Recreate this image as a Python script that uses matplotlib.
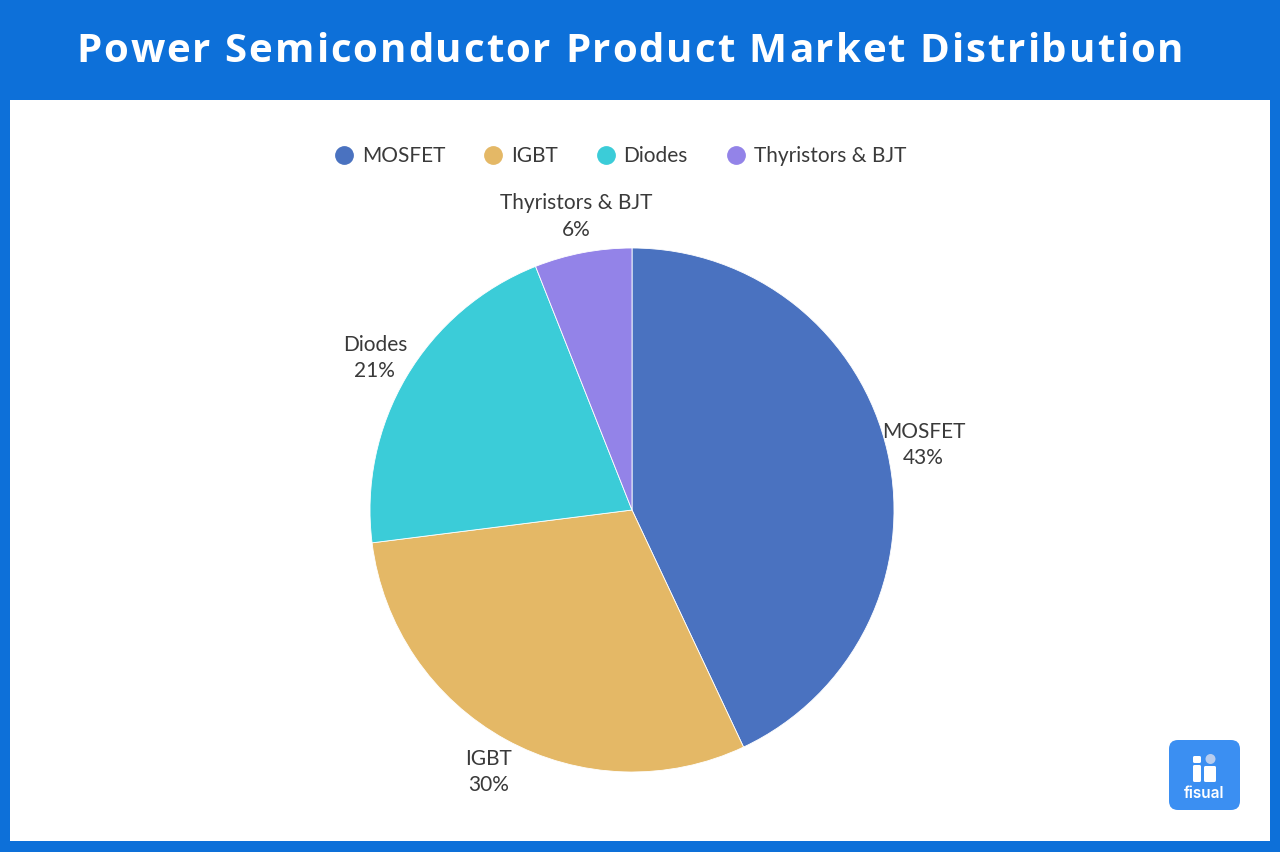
import matplotlib
matplotlib.use("Agg")
import matplotlib.pyplot as plt
from matplotlib.patches import Rectangle, FancyBboxPatch, Circle
from matplotlib.lines import Line2D
import numpy as np

# ---- data ----
categories = ["MOSFET", "IGBT", "Diodes", "Thyristors & BJT"]
shares = [43, 30, 21, 6]
colors = ["#4a72c0", "#e4b866", "#3bccd8", "#9383e8"]
title = "Power Semiconductor Product Market Distribution"

W, H = 1280, 852
FRAME = "#0d70d9"
TEXT = "#3a3a3a"
LABEL_FONT = ["Lato", "DejaVu Sans"]
TITLE_FONT = ["Open Sans", "DejaVu Sans"]

fig = plt.figure(figsize=(12.8, 8.52), dpi=100, facecolor=FRAME)
ax = fig.add_axes([0, 0, 1, 1])

# pie
cx, cy, r = 632, 342, 262
wedges, _ = ax.pie(shares, colors=colors, startangle=90, counterclock=False,
                   center=(cx, cy), radius=r,
                   wedgeprops=dict(edgecolor="white", linewidth=0.6))

ax.set_xlim(0, W)
ax.set_ylim(0, H)
ax.set_aspect("equal")
ax.axis("off")

# white panel
ax.add_patch(Rectangle((10, 11), 1260, 741, facecolor="white", edgecolor="none", zorder=0))

# title with letter spacing
renderer = fig.canvas.get_renderer()
tprops = dict(color="white", fontsize=29, fontweight="bold", family=TITLE_FONT, va="center")
def text_width(s):
    if not s:
        return 0.0
    t = ax.text(0, 0, s, **tprops)
    w = t.get_window_extent(renderer).width
    t.remove()
    return w
spacing = 2.0
full_w = text_width(title) + spacing * (len(title) - 1)
x0 = 630 - full_w / 2
for i, ch in enumerate(title):
    if ch == " ":
        continue
    xi = x0 + text_width(title[:i]) + spacing * i
    ax.text(xi, 801, ch, ha="left", **tprops)

total = sum(shares)
for w, name, val in zip(wedges, categories, shares):
    mid = np.deg2rad((w.theta1 + w.theta2) / 2)
    d = r * 1.14
    ax.text(cx + d * np.cos(mid), cy + d * np.sin(mid),
            f"{name}\n{val / total * 100:.0f}%", ha="center", va="center",
            fontsize=15, color=TEXT, family=LABEL_FONT, linespacing=1.4)

# legend
handles = [Line2D([], [], marker="o", linestyle="none", markersize=12.5,
                  markerfacecolor=c, markeredgecolor=c) for c in colors]
leg = ax.legend(handles, categories, loc="center", ncol=4,
                bbox_to_anchor=(620 / W, (H - 156) / H), frameon=False,
                handlelength=1.0, handletextpad=0.35, columnspacing=1.8,
                prop=dict(family=LABEL_FONT, size=15))
for t in leg.get_texts():
    t.set_color(TEXT)

# logo
ax.add_patch(FancyBboxPatch((1169, 42), 71, 70,
                            boxstyle="round,pad=0,rounding_size=9",
                            facecolor="#3b8ff2", edgecolor="none", zorder=3))
ax.add_patch(FancyBboxPatch((1193, H - 763), 8, 7, boxstyle="round,pad=0,rounding_size=1.5",
                            facecolor="white", edgecolor="none", zorder=4))
ax.add_patch(FancyBboxPatch((1193, H - 782), 8, 17, boxstyle="round,pad=0,rounding_size=1.5",
                            facecolor="white", edgecolor="none", zorder=4))
ax.add_patch(Circle((1210.5, H - 759), 5, facecolor="#b7cdef", edgecolor="none", zorder=4))
ax.add_patch(FancyBboxPatch((1204, H - 782), 12, 16, boxstyle="round,pad=0,rounding_size=1.5",
                            facecolor="white", edgecolor="none", zorder=4))
ax.text(1204.5, H - 793, "fisual", color="white", fontsize=11, fontweight="semibold",
        family=["Inter", "DejaVu Sans"], ha="center", va="center", zorder=5)

fig.savefig("out.png", dpi=100, facecolor=FRAME)
